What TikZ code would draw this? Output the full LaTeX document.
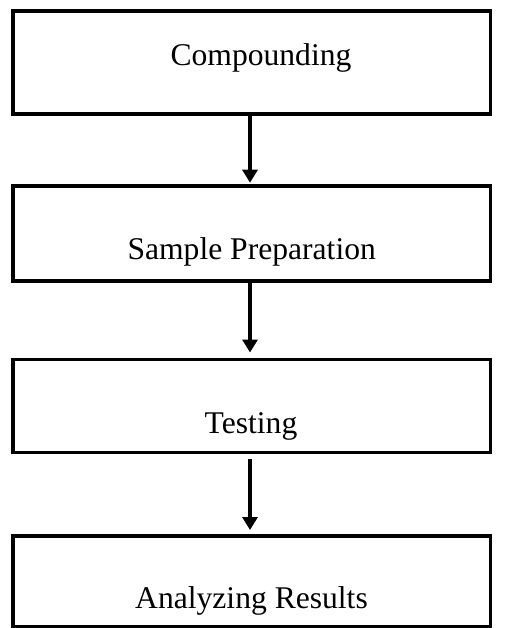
\documentclass[tikz,border=0pt]{standalone}
\usepackage{fontspec}
\setmainfont{Liberation Serif}
\usetikzlibrary{arrows.meta}
\begin{document}
\begin{tikzpicture}[x=1pt,y=-1pt,
  stagebox/.style={draw=black,line width=3.3pt,rectangle,inner sep=0pt,outer sep=0pt,
    minimum width=477.7pt,fill=white},
  stagelabel/.style={anchor=base,inner sep=0pt,font=\fontsize{31.6}{38}\selectfont},
  flow/.style={line width=4pt,-{Triangle[length=13pt,width=15pt]}}]
  \useasboundingbox (0,0) rectangle (504,628);
  % process stages
  \node[stagebox,minimum height=103pt] (b1) at (251.85,62.5) {};
  \node[stagebox,minimum height=95pt]  (b2) at (251.85,233.5) {};
  \node[stagebox,minimum height=93.2pt] (b3) at (251.85,406.1) {};
  \node[stagebox,minimum height=90.5pt] (b4) at (251.85,581.25) {};
  % stage names
  \node[stagelabel] (t1) at (261,66) {Compounding};
  \node[stagelabel] (t2) at (251.7,259.3) {Sample Preparation};
  \node[stagelabel] (t3) at (251,433) {Testing};
  \node[stagelabel] (t4) at (251.5,608.3) {Analyzing Results};
  % connectors between stages
  \draw[flow,shorten >=3.3pt] ([xshift=-1.85pt]b1.south) -- ([xshift=-1.85pt]b2.north);
  \draw[flow,shorten >=7pt] ([xshift=-1.85pt]b2.south) -- ([xshift=-1.85pt]b3.north);
  \draw[flow,shorten <=6.3pt,shorten >=6pt] ([xshift=-1.85pt]b3.south) -- ([xshift=-1.85pt]b4.north);
\end{tikzpicture}
\end{document}
